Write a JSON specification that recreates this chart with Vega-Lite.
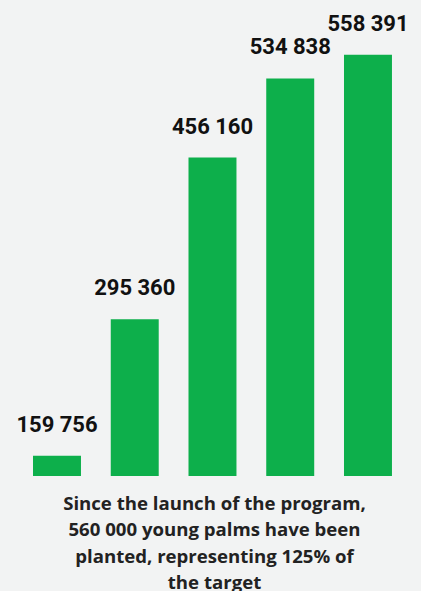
{
  "$schema": "https://vega.github.io/schema/vega-lite/v6.json",
  "width": 421,
  "height": 476,
  "autosize": {"type": "none"},
  "padding": {"left": 0, "top": 0, "right": 0, "bottom": 115},
  "background": "#f2f3f3",
  "config": {
    "view": {"stroke": null},
    "locale": {"number": {"decimal": ".", "thousands": " ", "grouping": [3], "currency": ["", ""]}}
  },
  "title": {
    "text": ["Since the launch of the program,", "560 000 young palms have been", "planted, representing 125% of", "the target"],
    "orient": "bottom",
    "anchor": "middle",
    "font": "Open Sans",
    "fontWeight": "bold",
    "fontSize": 18.6,
    "lineHeight": 26.3,
    "color": "#222222",
    "offset": 19,
    "dx": 4
  },
  "data": {
    "values": [
      {"stage": "1", "planted": 159756},
      {"stage": "2", "planted": 295360},
      {"stage": "3", "planted": 456160},
      {"stage": "4", "planted": 534838},
      {"stage": "5", "planted": 558391}
    ]
  },
  "encoding": {
    "x": {
      "field": "stage",
      "type": "nominal",
      "axis": null,
      "scale": {"paddingInner": 0.383, "paddingOuter": 0.399, "align": 0.532}
    },
    "y": {
      "field": "planted",
      "type": "quantitative",
      "axis": null,
      "scale": {"domain": [139668, 612829], "zero": false, "nice": false}
    }
  },
  "layer": [
    {"mark": {"type": "bar", "color": "#0daf4b", "clip": true}},
    {
      "mark": {"type": "text", "font": "Roboto", "fontWeight": "bold", "fontSize": 22, "baseline": "alphabetic", "dy": -24, "color": "#111111"},
      "encoding": {"text": {"field": "planted", "type": "quantitative", "format": ",d"}}
    }
  ]
}
